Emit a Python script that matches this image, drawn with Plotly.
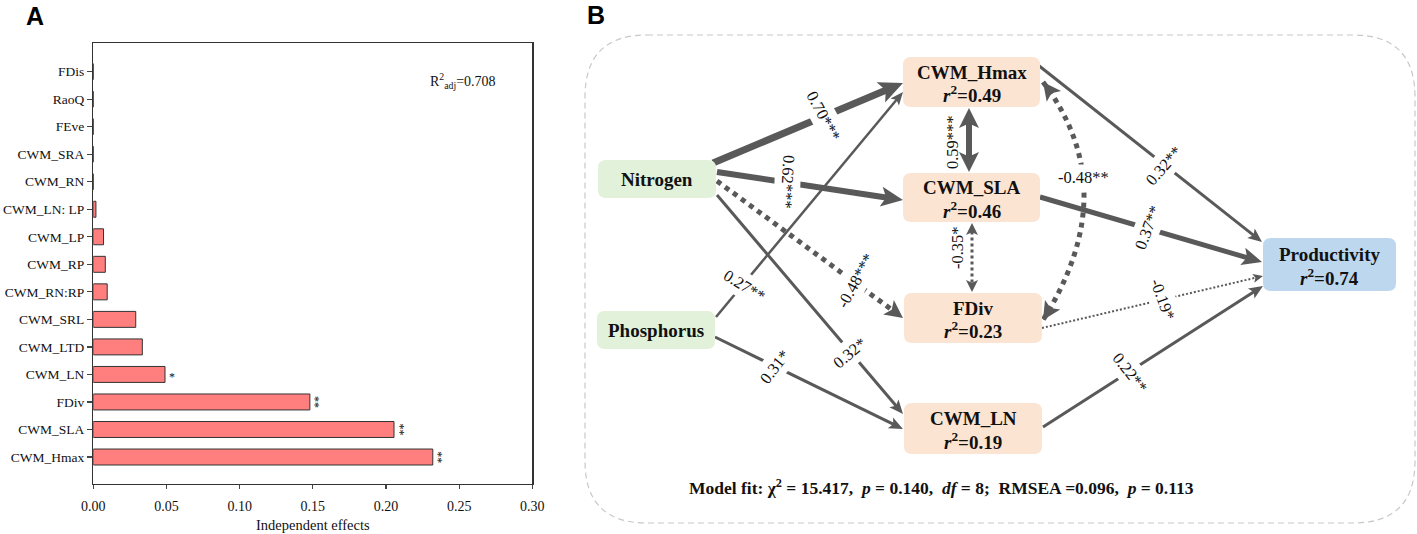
import math
import plotly.graph_objects as go

# ---------------- Panel A data ----------------
categories = ["CWM_Hmax", "CWM_SLA", "FDiv", "CWM_LN", "CWM_LTD", "CWM_SRL",
              "CWM_RN:RP", "CWM_RP", "CWM_LP", "CWM_LN: LP", "CWM_RN",
              "CWM_SRA", "FEve", "RaoQ", "FDis"]
effects = [0.232, 0.2055, 0.148, 0.049, 0.0335, 0.029,
           0.0095, 0.0082, 0.007, 0.0018, 0.0, 0.0, 0.0, 0.0, 0.0]
signif = ["**", "**", "**", "*", "", "", "", "", "", "", "", "", "", "", ""]
r2_adj = 0.708
x_ticks = [0.0, 0.05, 0.10, 0.15, 0.20, 0.25, 0.30]

# ---------------- Panel B data ----------------
sem_nodes = ["Nitrogen", "Phosphorus", "CWM_Hmax", "CWM_SLA", "FDiv", "CWM_LN", "Productivity"]
sem_r2 = [None, None, 0.49, 0.46, 0.23, 0.19, 0.74]
path_from = ["Nitrogen", "Nitrogen", "Nitrogen", "Nitrogen", "Phosphorus", "Phosphorus",
             "CWM_Hmax", "CWM_SLA", "CWM_Hmax", "CWM_Hmax", "CWM_SLA", "FDiv", "CWM_LN"]
path_to = ["CWM_Hmax", "CWM_SLA", "FDiv", "CWM_LN", "CWM_Hmax", "CWM_LN",
           "CWM_SLA", "FDiv", "FDiv", "Productivity", "Productivity", "Productivity", "Productivity"]
path_coef = [0.70, 0.62, -0.48, 0.32, 0.27, 0.31, 0.59, -0.35, -0.48, 0.32, 0.37, -0.19, 0.22]
path_sig = ["***", "***", "***", "*", "**", "*", "***", "*", "**", "**", "**", "*", "**"]
fit_chi2, fit_p, fit_df, fit_rmsea, fit_p_rmsea = 15.417, 0.140, 8, 0.096, 0.113

# ---------------- layout / geometry (pixels) ----------------
W, H = 1417, 534
SERIF = "Liberation Serif, Times New Roman, serif"
SANS = "Liberation Sans, Arial, sans-serif"
EDGE = "#595959"
TXT = "#111111"
NB = "\u00a0"

node_box = {  # x0, y0, x1, y1, fill
    "Nitrogen": (598, 160, 716, 198, "#E2F2DA"),
    "Phosphorus": (597, 311, 715, 349, "#E2F2DA"),
    "CWM_Hmax": (903, 57, 1040, 107, "#FCE4D3"),
    "CWM_SLA": (903, 173, 1040, 222, "#FCE4D3"),
    "FDiv": (904, 293, 1042, 343, "#FCE4D3"),
    "CWM_LN": (904, 403, 1042, 454, "#FCE4D3"),
    "Productivity": (1263, 238, 1396, 291, "#BDD7EE"),
}

# per path: start, end, width, dash, head length, head half width, double, label pos, angle, ctrl(curve)
path_geom = [
    dict(s=(713, 163), e=(903, 83), w=7, dash="solid", L=24, hw=11, dbl=False, lab=(824, 116), ang=62),
    dict(s=(717, 172), e=(903, 200), w=6, dash="solid", L=22, hw=10, dbl=False, lab=(788, 182), ang=93),
    dict(s=(717, 181), e=(903, 318), w=5, dash="dot", L=18, hw=9, dbl=False, lab=(855, 281), ang=-61),
    dict(s=(717, 195), e=(903, 414), w=3, dash="solid", L=14, hw=6, dbl=False, lab=(849, 353), ang=-40),
    dict(s=(716, 317), e=(903, 92), w=2.5, dash="solid", L=13, hw=5.5, dbl=False, lab=(744, 285), ang=32),
    dict(s=(715, 337), e=(903, 429), w=3, dash="solid", L=14, hw=6, dbl=False, lab=(774, 367), ang=-52),
    dict(s=(969, 108), e=(969, 172), w=6, dash="solid", L=20, hw=10, dbl=True, lab=(952, 142), ang=-90, side=True),
    dict(s=(972, 223), e=(972, 292), w=3, dash="dot", L=12, hw=6, dbl=True, lab=(957, 248), ang=-90, side=True),
    dict(s=(1043, 82), e=(1043, 320), c=(1125, 190), w=5, dash="dot", L=18, hw=9, dbl=True, lab=(1083, 177), ang=0),
    dict(s=(1038, 65), e=(1262, 242), w=3, dash="solid", L=14, hw=6, dbl=False, lab=(1163, 166), ang=-49),
    dict(s=(1040, 197), e=(1262, 262), w=5, dash="solid", L=20, hw=9, dbl=False, lab=(1147, 228), ang=-69),
    dict(s=(1042, 328), e=(1263, 276), w=2, dash="2px,2px", L=10, hw=4.5, dbl=False, lab=(1163, 299), ang=70),
    dict(s=(1043, 427), e=(1263, 286), w=3, dash="solid", L=14, hw=6, dbl=False, lab=(1130, 372), ang=52),
]

fig = go.Figure()

# ---------------- Panel A ----------------
fig.add_trace(go.Bar(
    x=effects, y=categories, orientation="h", width=0.58,
    marker=dict(color="#FF7F7F", line=dict(color="#333333", width=1)),
    xaxis="x", yaxis="y", showlegend=False, hoverinfo="skip"))

annotations = []
for cat, val, s in zip(categories, effects, signif):
    if not s:
        continue
    if len(s) > 1:
        annotations.append(dict(x=val, y=cat, xref="x", yref="y", text=s, showarrow=False,
                                textangle=90, xanchor="center", yanchor="middle", xshift=5,
                                font=dict(family=SERIF, size=12, color=TXT)))
    else:
        annotations.append(dict(x=val, y=cat, xref="x", yref="y", text=s, showarrow=False,
                                xanchor="center", yanchor="middle", xshift=7, yshift=-3,
                                font=dict(family=SERIF, size=12, color=TXT)))

annotations.append(dict(x=0.2527, y=13.66, xref="x", yref="y",
                        text=f"R<sup>2</sup><sub>adj</sub>={r2_adj:.3f}", showarrow=False,
                        xanchor="center", yanchor="middle",
                        font=dict(family=SERIF, size=14, color=TXT)))
annotations.append(dict(x=0.15, y=1 - 525 / H, xref="x", yref="paper", text="Independent effects",
                        showarrow=False, xanchor="center", yanchor="middle",
                        font=dict(family=SERIF, size=14.5, color=TXT)))

# ---------------- Panel B ----------------
fig.add_trace(go.Scatter(x=[0], y=[0], mode="markers", marker=dict(opacity=0),
                         xaxis="x2", yaxis="y2", showlegend=False, hoverinfo="skip"))

shapes = []


def rrect(x0, y0, x1, y1, r):
    return (f"M {x0 + r},{y0} L {x1 - r},{y0} Q {x1},{y0} {x1},{y0 + r} "
            f"L {x1},{y1 - r} Q {x1},{y1} {x1 - r},{y1} L {x0 + r},{y1} "
            f"Q {x0},{y1} {x0},{y1 - r} L {x0},{y0 + r} Q {x0},{y0} {x0 + r},{y0} Z")


def head(tip, d, L, hw):
    tx, ty = tip
    dx, dy = d
    bx, by = tx - L * dx, ty - L * dy
    nx, ny = -dy, dx
    nxp, nyp = tx - 0.78 * L * dx, ty - 0.78 * L * dy
    return (f"M {tx:.2f},{ty:.2f} L {bx + hw * nx:.2f},{by + hw * ny:.2f} "
            f"L {nxp:.2f},{nyp:.2f} L {bx - hw * nx:.2f},{by - hw * ny:.2f} Z")


def unit(a, b):
    dx, dy = b[0] - a[0], b[1] - a[1]
    n = math.hypot(dx, dy)
    return dx / n, dy / n


# dashed outer frame
shapes.append(dict(type="path", xref="x2", yref="y2", path=rrect(585, 35, 1415, 523, 62),
                   line=dict(color="#C8C8C8", width=1.2, dash="6px,4px"), fillcolor="rgba(0,0,0,0)"))

# edges
for g in path_geom:
    s, e = g["s"], g["e"]
    if "c" in g:
        c = g["c"]
        shapes.append(dict(type="path", xref="x2", yref="y2",
                           path=f"M {s[0]},{s[1]} Q {c[0]},{c[1]} {e[0]},{e[1]}",
                           line=dict(color=EDGE, width=g["w"], dash=g["dash"]),
                           fillcolor="rgba(0,0,0,0)"))
        d_end = unit(c, e)
        d_start = unit(c, s)
        heads = [(e, d_end), (s, d_start)]
    else:
        d = unit(s, e)
        trim = 0.7 * g["L"]
        ex, ey = e[0] - trim * d[0], e[1] - trim * d[1]
        sx, sy = s
        if g["dbl"]:
            sx, sy = s[0] + trim * d[0], s[1] + trim * d[1]
        shapes.append(dict(type="line", xref="x2", yref="y2", x0=sx, y0=sy, x1=ex, y1=ey,
                           line=dict(color=EDGE, width=g["w"], dash=g["dash"])))
        heads = [(e, d)]
        if g["dbl"]:
            heads.append((s, (-d[0], -d[1])))
    for tip, dd in heads:
        shapes.append(dict(type="path", xref="x2", yref="y2", path=head(tip, dd, g["L"], g["hw"]),
                           line=dict(width=0), fillcolor=EDGE))

# node boxes
for name, r2 in zip(sem_nodes, sem_r2):
    x0, y0, x1, y1, fill = node_box[name]
    shapes.append(dict(type="path", xref="x2", yref="y2", path=rrect(x0, y0, x1, y1, 8),
                       line=dict(width=0), fillcolor=fill))
    cx, cy = (x0 + x1) / 2, (y0 + y1) / 2
    if r2 is None:
        annotations.append(dict(x=cx, y=cy, xref="x2", yref="y2", text=f"<b>{name}</b>",
                                showarrow=False, font=dict(family=SERIF, size=19, color=TXT)))
    else:
        annotations.append(dict(x=cx, y=cy - 10, xref="x2", yref="y2", text=f"<b>{name}</b>",
                                showarrow=False, font=dict(family=SERIF, size=19, color=TXT)))
        annotations.append(dict(x=cx, y=cy + 12, xref="x2", yref="y2",
                                text=f"<b><i>r</i><sup>2</sup>={r2:.2f}</b>",
                                showarrow=False, font=dict(family=SERIF, size=19, color=TXT)))

# path labels
for g, coef, sig in zip(path_geom, path_coef, path_sig):
    side = g.get("side", False)
    annotations.append(dict(x=g["lab"][0], y=g["lab"][1], xref="x2", yref="y2",
                            text=f"{coef:.2f}{sig}", showarrow=False, textangle=g["ang"],
                            xanchor="center", yanchor="middle",
                            bgcolor="rgba(0,0,0,0)" if side else "white", borderpad=3,
                            font=dict(family=SERIF, size=16.5, color=TXT)))

# model fit
annotations.append(dict(
    x=941, y=487, xref="x2", yref="y2", showarrow=False, xanchor="center", yanchor="middle",
    text=(f"<b>Model fit: χ<sup>2</sup> = {fit_chi2:.3f},{NB}{NB}<i>p</i> = {fit_p:.3f},{NB}{NB}"
          f"<i>df</i> = {fit_df};{NB}{NB}RMSEA ={fit_rmsea:.3f},{NB}{NB}<i>p</i> = {fit_p_rmsea:.3f}</b>"),
    font=dict(family=SERIF, size=17.5, color=TXT)))

# panel letters
annotations.append(dict(x=35, y=16, xref="x2", yref="y2", text="<b>A</b>", showarrow=False,
                        font=dict(family=SANS, size=25, color="#000")))
annotations.append(dict(x=596, y=15, xref="x2", yref="y2", text="<b>B</b>", showarrow=False,
                        font=dict(family=SANS, size=25, color="#000")))

fig.update_layout(
    width=W, height=H, autosize=False,
    margin=dict(l=0, r=0, t=0, b=0, pad=0, autoexpand=False),
    paper_bgcolor="white", plot_bgcolor="rgba(0,0,0,0)",
    showlegend=False,
    xaxis=dict(domain=[93.3 / W, 532.3 / W], range=[0, 0.30], tickvals=x_ticks,
               ticktext=[f"{v:.2f}" for v in x_ticks], ticks="outside", ticklen=4,
               tickcolor="#444", tickwidth=1.2, showgrid=False, zeroline=False,
               showline=True, mirror=True, linecolor="#333", linewidth=1.3,
               ticklabelstandoff=5, automargin=False,
               tickfont=dict(family=SERIF, size=14, color=TXT), anchor="y", fixedrange=True),
    yaxis=dict(domain=[1 - 484 / H, 1 - 43 / H], type="category", categoryorder="array",
               categoryarray=categories, range=[-0.98, 15.04], ticks="outside", ticklen=5,
               tickcolor="#444", tickwidth=1.2, showgrid=False, zeroline=False,
               showline=True, mirror=True, linecolor="#333", linewidth=1.3, automargin=False,
               tickfont=dict(family=SERIF, size=13.5, color=TXT), anchor="x", fixedrange=True),
    xaxis2=dict(domain=[0, 1], range=[0, W], visible=False, anchor="y2", fixedrange=True,
                automargin=False),
    yaxis2=dict(domain=[0, 1], range=[H, 0], visible=False, anchor="x2", fixedrange=True,
                automargin=False),
    shapes=shapes,
    annotations=annotations,
)

fig.write_html("out.html", config={"displayModeBar": False, "staticPlot": True},
               post_script="document.body.style.margin='0';")
